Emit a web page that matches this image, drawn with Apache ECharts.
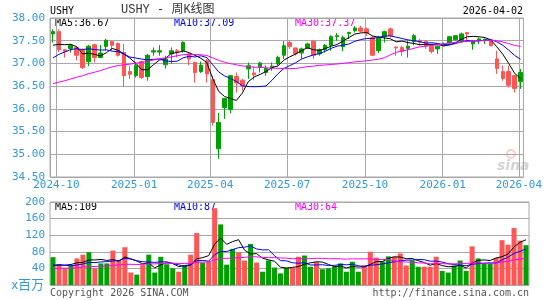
<!DOCTYPE html>
<html>
<head>
<meta charset="utf-8">
<script src="https://cdn.jsdelivr.net/npm/echarts@6/dist/echarts.min.js"></script>
<style>
html, body { margin: 0; padding: 0; background: #fff; }
#main { width: 545px; height: 300px; }
</style>
</head>
<body>
<div id="main"></div>
<script>
// USHY weekly K-line, week-ending Fridays from 2024-09-27
var firstFriday = Date.UTC(2024, 8, 27);
var dateText = '2026-04-02';

// [open, close, low, high]
var ohlc = [
	[37.65,37.70,37.46,37.75],[37.70,37.30,37.25,37.75],[37.30,37.26,37.13,37.32],[37.33,37.40,37.24,37.43],
	[37.35,37.18,37.07,37.38],[37.30,36.91,36.88,37.33],[37.04,37.38,36.94,37.41],[37.41,37.13,37.02,37.43],
	[37.13,37.23,37.12,37.41],[37.37,37.51,37.28,37.54],[37.48,37.40,37.28,37.50],[37.44,37.18,37.15,37.46],
	[37.24,36.73,36.49,37.43],[36.82,36.76,36.66,36.95],[36.73,36.95,36.69,37.02],[37.04,36.69,36.66,37.06],
	[36.71,37.18,36.62,37.21],[37.25,37.28,37.17,37.35],[37.25,37.28,37.17,37.40],[36.97,37.10,36.89,37.17],
	[37.21,37.28,36.99,37.35],[37.28,37.25,37.13,37.32],[37.28,37.46,37.24,37.49],[37.21,37.10,36.96,37.23],
	[37.02,36.80,36.58,37.04],[36.82,36.96,36.79,37.04],[37.06,36.77,36.58,37.10],[36.64,35.70,35.63,36.73],
	[35.12,35.70,34.90,35.91],[36.03,36.23,35.78,36.24],[35.99,36.73,35.90,36.74],[36.71,36.57,36.36,36.80],
	[36.63,36.51,36.40,36.66],[36.88,36.95,36.66,37.02],[36.79,36.75,36.63,36.93],[36.91,37.01,36.80,37.04],
	[36.80,36.89,36.73,36.96],[36.90,36.94,36.84,37.02],[36.99,37.13,36.95,37.17],[37.18,37.39,37.10,37.49],
	[37.46,37.37,37.32,37.51],[37.34,37.21,37.17,37.35],[37.23,37.32,37.10,37.35],[37.34,37.43,37.32,37.46],
	[37.49,37.18,37.10,37.50],[37.21,37.30,37.17,37.33],[37.30,37.40,37.24,37.43],[37.40,37.59,37.28,37.62],
	[37.59,37.61,37.50,37.67],[37.37,37.57,37.27,37.61],[37.66,37.68,37.54,37.70],[37.72,37.78,37.68,37.82],
	[37.78,37.71,37.68,37.83],[37.76,37.67,37.61,37.79],[37.57,37.18,37.16,37.61],[37.28,37.55,37.23,37.61],
	[37.59,37.70,37.46,37.72],[37.76,37.61,37.57,37.79],[37.36,37.34,37.17,37.37],[37.35,37.26,37.17,37.39],
	[37.33,37.38,37.13,37.50],[37.48,37.61,37.40,37.65],[37.50,37.47,37.39,37.54],[37.49,37.38,37.32,37.50],
	[37.39,37.26,37.22,37.43],[37.32,37.38,37.21,37.39],[37.40,37.43,37.38,37.46],[37.45,37.59,37.43,37.59],
	[37.52,37.61,37.50,37.62],[37.50,37.65,37.46,37.68],[37.68,37.65,37.50,37.68],[37.43,37.48,37.30,37.50],
	[37.50,37.54,37.43,37.57],[37.50,37.53,37.43,37.55],[37.50,37.39,37.38,37.51],[37.10,36.89,36.77,37.28],
	[36.82,36.67,36.62,36.95],[36.82,36.52,36.47,36.95],[36.73,36.45,36.36,36.74],[36.60,36.80,36.44,36.88]
];

// weekly volume, millions
var volume = [
	67,50,40,46,64,73,79,40,52,52,
	83,60,91,30,25,48,73,30,68,50,
	40,32,46,73,125,54,56,185,146,49,
	87,79,59,99,54,32,59,42,28,42,
	42,68,71,44,55,38,40,44,52,32,
	56,32,48,80,66,57,69,68,76,47,
	59,44,44,44,68,34,30,47,59,34,
	93,64,52,52,65,108,97,137,107,96
];

// weeks before the window, only there so the MA lines start where the picture has them
var preClose = [36.30,36.35,36.20,36.05,35.95,36.05,36.15,36.20,36.10,36.25,
	36.30,36.25,36.35,36.30,36.30,36.35,36.40,36.45,36.55,36.60,
	36.50,36.75,36.85,37.00,37.10,37.20,37.30,37.35,37.45];
var preVol = [38,34,40,30,36,42,33,35,38,31,37,40,34,36,39,32,35,37,36,37,
	52,45,55,48,48,40,44,38,44];

var priceTicks = { min: 34.5, max: 38, step: 0.5 };
var volTicks = { min: 0, max: 200, step: 40 };

var UP = '#00a000', DOWN = '#ff5555';
var BLUE_TXT = '#3399dd', GRID = '#a8a8a8';
var MONO = "'DejaVu Sans Mono', monospace";

var DAY = 86400000;
var dates = [];
for (var i = 0; i < ohlc.length; i++) {
	dates.push(new Date(firstFriday + i * 7 * DAY).toISOString().slice(0, 10));
}

function ma(all, n, skip) {
	var out = [];
	for (var i = skip; i < all.length; i++) {
		var s = 0;
		for (var j = i - n + 1; j <= i; j++) s += all[j];
		out.push(+(s / n).toFixed(3));
	}
	return out;
}

var closeAll = preClose.concat(ohlc.map(function(d) { return d[1]; }));
var volAll = preVol.concat(volume);
var pMa5 = ma(closeAll, 5, preClose.length);
var pMa10 = ma(closeAll, 10, preClose.length);
var pMa30 = ma(closeAll, 30, preClose.length);
var vMa5 = ma(volAll, 5, preVol.length);
var vMa10 = ma(volAll, 10, preVol.length);
var vMa30 = ma(volAll, 30, preVol.length);

function last(a) { return a[a.length - 1]; }

var volData = volume.map(function(v, i) {
	return { value: v, itemStyle: { color: ohlc[i][1] >= ohlc[i][0] ? UP : DOWN } };
});

function maLine(name, data, color, xi, yi) {
	return {
		name: name, type: 'line', data: data, xAxisIndex: xi, yAxisIndex: yi,
		symbol: 'none', silent: true, lineStyle: { width: 1, color: color }
	};
}

function txt(x, y, text, color, font, align) {
	return {
		type: 'text', x: x, y: y, silent: true,
		style: { text: text, fill: color, font: font, align: align || 'left', verticalAlign: 'middle' }
	};
}

var pad = function(n) { return n < 10 ? '0' + n : '' + n; };

var myChart = echarts.init(document.getElementById('main'));
myChart.setOption({
	animation: false,
	useUTC: true,
	backgroundColor: '#fff',
	grid: [
		{ left: 50, top: 18, width: 479, height: 159, show: true, borderColor: GRID, borderWidth: 1 },
		{ left: 50, top: 202, width: 479, height: 83, show: true, borderColor: GRID, borderWidth: 1 }
	],
	xAxis: [{
		type: 'category', gridIndex: 0, data: dates, boundaryGap: true,
		axisLine: { show: false }, axisTick: { show: false }, axisLabel: { show: false }, splitLine: { show: false }
	}, {
		type: 'time', gridIndex: 0, position: 'bottom',
		min: firstFriday - 3.5 * DAY,
		max: firstFriday + (ohlc.length - 1) * 7 * DAY + 3.5 * DAY,
		splitNumber: 6,
		axisLine: { show: false }, axisTick: { show: false },
		axisLabel: {
			color: BLUE_TXT, fontFamily: MONO, fontSize: 11, margin: 3,
			formatter: function(v) {
				var d = new Date(v);
				return d.getUTCFullYear() + '-' + pad(d.getUTCMonth() + 1);
			}
		},
		splitLine: { show: true, lineStyle: { color: GRID, width: 1 } }
	}, {
		type: 'category', gridIndex: 1, data: dates, boundaryGap: true,
		axisLine: { show: false }, axisTick: { show: false }, axisLabel: { show: false }, splitLine: { show: false }
	}],
	yAxis: [{
		type: 'value', gridIndex: 0, min: priceTicks.min, max: priceTicks.max, interval: priceTicks.step,
		axisLine: { show: false }, axisTick: { show: false },
		axisLabel: {
			color: BLUE_TXT, fontFamily: MONO, fontSize: 11, margin: 5,
			formatter: function(v) { return v.toFixed(2); }
		},
		splitLine: { lineStyle: { color: GRID, width: 1 } }
	}, {
		type: 'value', gridIndex: 1, min: volTicks.min, max: volTicks.max, interval: volTicks.step,
		axisLine: { show: false }, axisTick: { show: false },
		axisLabel: { color: BLUE_TXT, fontFamily: MONO, fontSize: 11, margin: 5, showMinLabel: false },
		splitLine: { lineStyle: { color: GRID, width: 1 } }
	}],
	series: [{
		name: 'K', type: 'candlestick', data: ohlc, xAxisIndex: 0, yAxisIndex: 0,
		barWidth: 4, silent: true,
		itemStyle: { color: UP, color0: DOWN, borderColor: UP, borderColor0: DOWN, borderWidth: 1 }
	},
		maLine('MA5', pMa5, '#000000', 0, 0),
		maLine('MA10', pMa10, '#0000ff', 0, 0),
		maLine('MA30', pMa30, '#ff00ff', 0, 0),
	{
		name: 'VOL', type: 'bar', data: volData, xAxisIndex: 2, yAxisIndex: 1, barWidth: 5, silent: true
	},
		maLine('VMA5', vMa5, '#000000', 2, 1),
		maLine('VMA10', vMa10, '#0000ff', 2, 1),
		maLine('VMA30', vMa30, '#ff00ff', 2, 1)
	],
	graphic: [
		txt(50, 11, 'USHY', '#000', '10px ' + MONO),
		txt(121, 10, 'USHY - 周K线图', '#333', "12px 'Liberation Mono', 'Noto Sans CJK SC'"),
		txt(523, 11, dateText, '#000', '10px ' + MONO, 'right'),
		txt(55, 23, 'MA5:' + last(pMa5).toFixed(2), '#000', '10px ' + MONO),
		txt(174, 23, 'MA10:' + last(pMa10).toFixed(2), '#0000ff', '10px ' + MONO),
		txt(295, 23, 'MA30:' + last(pMa30).toFixed(2), '#ff00ff', '10px ' + MONO),
		txt(55, 207, 'MA5:' + Math.round(last(vMa5)), '#000', '10px ' + MONO),
		txt(174, 207, 'MA10:' + Math.round(last(vMa10)), '#0000ff', '10px ' + MONO),
		txt(295, 207, 'MA30:' + Math.round(last(vMa30)), '#ff00ff', '10px ' + MONO),
		txt(44, 284, 'x百万', BLUE_TXT, "13px 'Noto Sans CJK SC'", 'right'),
		txt(50, 293, 'Copyright 2026 SINA.COM', '#555', '10px ' + MONO),
		txt(529, 293, 'http://finance.sina.com.cn', '#555', '10px ' + MONO, 'right'),
		// faint sina watermark
		{
			type: 'circle', silent: true, shape: { cx: 511, cy: 154, r: 4 },
			style: { fill: 'none', stroke: 'rgba(230,90,90,0.3)', lineWidth: 2 }
		},
		{
			type: 'text', x: 497, y: 166, silent: true,
			style: { text: 'sina', fill: 'rgba(160,160,160,0.45)', font: "italic bold 14px 'DejaVu Sans'", verticalAlign: 'middle' }
		}
	]
});
</script>
</body>
</html>
